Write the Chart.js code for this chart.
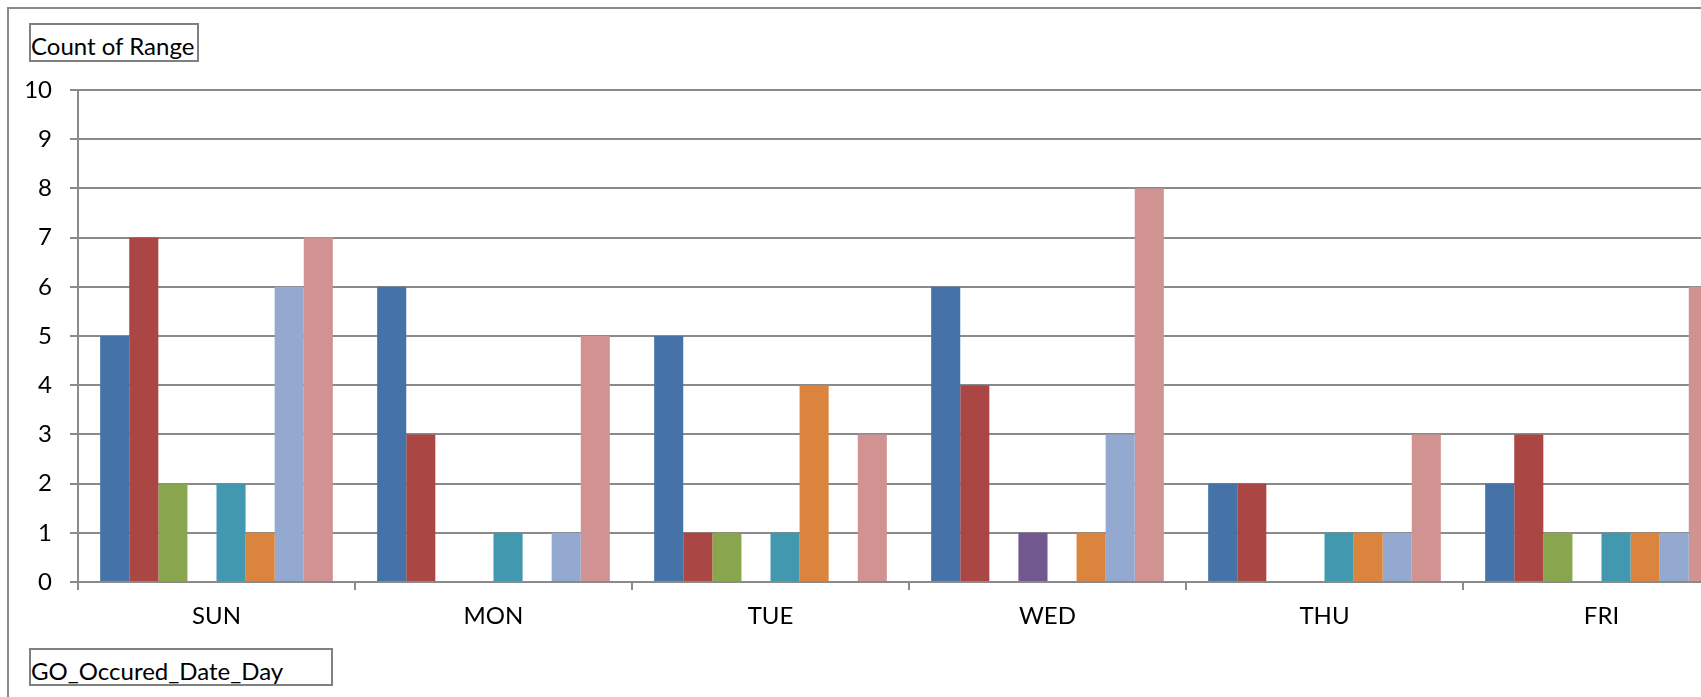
<!DOCTYPE html>
<html>
<head>
<meta charset="utf-8">
<script src="https://cdn.jsdelivr.net/npm/chart.js@4/dist/chart.umd.min.js"></script>
<style>
  html, body { margin: 0; padding: 0; background: #fff; width: 1701px; height: 697px; overflow: hidden; }
  #frame { position: absolute; left: 7px; top: 7px; width: 1800px; height: 800px; border: 2px solid #8a8a8a; box-sizing: border-box; }
  #chartWrap { position: absolute; left: 0; top: 0; }
  .fieldBox { position: absolute; border: 2px solid #808080; box-sizing: border-box; background: #fff; }
  .fieldText { position: absolute; font-family: Lato, sans-serif; font-size: 24px; line-height: 24px; color: #000; white-space: nowrap; }
</style>
</head>
<body>
<div id="frame"></div>
<div class="fieldBox" style="left:29px; top:23px; width:170px; height:39px;"></div>
<div class="fieldText" style="left:31px; top:34px;">Count of Range</div>
<div class="fieldBox" style="left:29px; top:648px; width:304px; height:38px;"></div>
<div class="fieldText" style="left:31px; top:659px;">GO_Occured_Date_Day</div>
<div id="chartWrap"><canvas id="chartRange" width="1745" height="697"></canvas></div>
<script>
const days = ["SUN", "MON", "TUE", "WED", "THU", "FRI"];

// one array per series, values per day
const series1 = [5, 6, 5, 6, 2, 2];
const series2 = [7, 3, 1, 4, 2, 3];
const series3 = [2, 0, 1, 0, 0, 1];
const series4 = [0, 0, 0, 1, 0, 0];
const series5 = [2, 1, 1, 0, 1, 1];
const series6 = [1, 0, 4, 1, 1, 1];
const series7 = [6, 1, 0, 3, 1, 1];
const series8 = [7, 5, 3, 8, 3, 6];

const seriesNames = ["1", "2", "3", "4", "5", "6", "7", "8"];
const seriesColors = ["#4572A7", "#AA4643", "#89A54E", "#71588F", "#4198AF", "#DB843D", "#93A9CF", "#D19392"];

const yTicks = [0, 1, 2, 3, 4, 5, 6, 7, 8, 9, 10];

const gridColor = "#8a8a8a";

function renderRangeChart() {
  const canvas = document.getElementById("chartRange");
  const values = [series1, series2, series3, series4, series5, series6, series7, series8];

  Chart.defaults.font.family = "Lato, sans-serif";
  Chart.defaults.font.size = 24;
  Chart.defaults.color = "#000";

  new Chart(canvas.getContext("2d"), {
    type: "bar",
    data: {
      labels: days,
      datasets: values.map((data, i) => ({
        label: seriesNames[i],
        data,
        backgroundColor: seriesColors[i],
        borderWidth: 0,
        categoryPercentage: 0.84,
        barPercentage: 1,
      })),
    },
    options: {
      responsive: false,
      animation: false,
      layout: { padding: { left: 0, top: 90, right: 5, bottom: 0 } },
      plugins: { legend: { display: false }, tooltip: { enabled: false } },
      scales: {
        x: {
          afterFit: (s) => { s.height = 115; },
          grid: { drawOnChartArea: false, drawTicks: true, tickLength: 8, color: gridColor, lineWidth: 2 },
          border: { display: true, color: gridColor, width: 2 },
          ticks: { padding: 12, color: "#000" },
        },
        y: {
          min: 0,
          max: 10,
          afterFit: (s) => { s.width = 78; },
          afterBuildTicks: (s) => { s.ticks = yTicks.map((v) => ({ value: v })); },
          grid: { color: gridColor, lineWidth: 2, tickLength: 8 },
          border: { display: true, color: gridColor, width: 2 },
          ticks: { padding: 18, color: "#000" },
        },
      },
    },
  });
}

renderRangeChart();
</script>
</body>
</html>
